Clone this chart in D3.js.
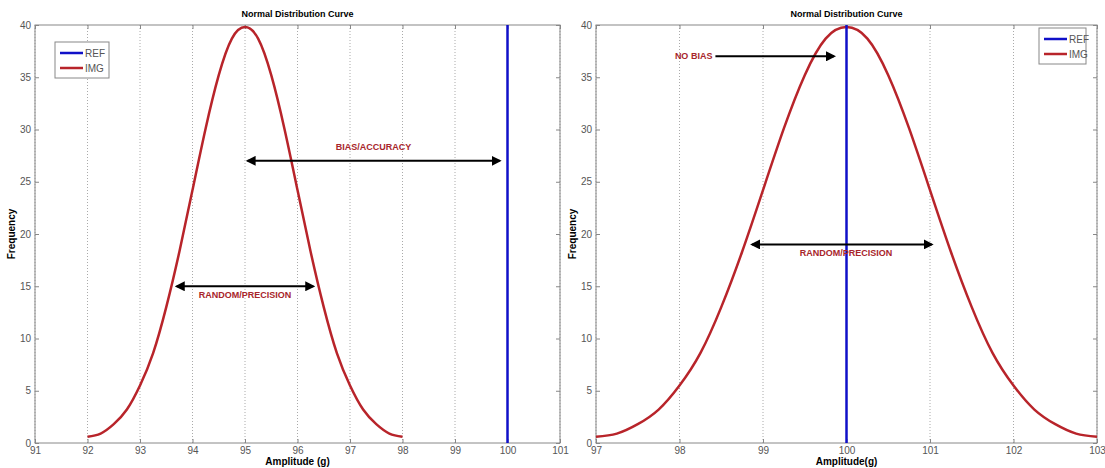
<!DOCTYPE html>
<html>
<head>
<meta charset="utf-8">
<script src="https://cdn.jsdelivr.net/npm/d3@7"></script>
<style>
  body { margin: 0; background: #fff; }
  svg { font-family: "Liberation Sans", Arial, sans-serif; }
  .tick text { fill: #555; font-size: 10px; }
  .axis path, .axis line { stroke: #888; }
  .grid line { stroke: #aaa; stroke-dasharray: 1,2; }
  .note { fill: #a8262b; font-size: 9px; font-weight: bold; }
</style>
</head>
<body>
<div id="chart"></div>
<script>
// values
var leftX   = [92, 92.25, 92.5, 92.75, 93, 93.25, 93.5, 93.75, 94, 94.25, 94.5, 94.75, 95,
               95.25, 95.5, 95.75, 96, 96.25, 96.5, 96.75, 97, 97.25, 97.5, 97.75, 98];
var leftY   = [0.6, 0.9, 1.8, 3.2, 5.5, 8.6, 13, 18.3, 24.2, 30.1, 35.2, 38.7, 39.8,
               38.7, 35.2, 30.1, 24.2, 18.3, 13, 8.6, 5.5, 3.2, 1.8, 0.9, 0.6];
var rightX  = [97, 97.25, 97.5, 97.75, 98, 98.25, 98.5, 98.75, 99, 99.25, 99.5, 99.75, 100,
               100.25, 100.5, 100.75, 101, 101.25, 101.5, 101.75, 102, 102.25, 102.5, 102.75, 103];
var rightY  = [0.6, 0.9, 1.8, 3.2, 5.5, 8.6, 13, 18.3, 24.2, 30.1, 35.2, 38.7, 39.8,
               38.7, 35.2, 30.1, 24.2, 18.3, 13, 8.6, 5.5, 3.2, 1.8, 0.9, 0.6];
var refValue = 100;
var leftTicks  = [91, 92, 93, 94, 95, 96, 97, 98, 99, 100, 101];
var rightTicks = [97, 98, 99, 100, 101, 102, 103];
var yTicks = [0, 5, 10, 15, 20, 25, 30, 35, 40];
var legendLabels = ["REF", "IMG"];

// annotations: [x1, x2, y, label]
var leftArrows  = [[95.05, 99.85, 27, "BIAS/ACCURACY"], [93.7, 96.3, 15, "RANDOM/PRECISION"]];
var rightArrows = [[98.87, 101.02, 19, "RANDOM/PRECISION"]];
var rightOneWay = [[98.43, 99.85, 37, "NO BIAS"]];

var colors = { ref: "#1010c8", img: "#b8242a" };

var svg = d3.select("#chart").append("svg")
    .attr("width", 1105).attr("height", 468);

var defs = svg.append("defs");
defs.append("marker").attr("id", "ah")
    .attr("viewBox", "0 0 10 10").attr("refX", 8).attr("refY", 5)
    .attr("markerWidth", 5).attr("markerHeight", 5).attr("orient", "auto-start-reverse")
    .append("path").attr("d", "M0,0 L10,5 L0,10 Z").attr("fill", "#000");

function drawPanel(p) {
    var x = d3.scaleLinear().domain(p.xDomain).range([p.left, p.right]);
    var y = d3.scaleLinear().domain([0, 40]).range([443, 25]);
    var g = svg.append("g");

    // dotted grid on x ticks
    g.append("g").attr("class", "grid").selectAll("line")
        .data(p.ticks).enter().append("line")
        .attr("x1", d => x(d)).attr("x2", d => x(d))
        .attr("y1", y(0)).attr("y2", y(40));

    // box
    g.append("rect").attr("x", p.left).attr("y", y(40))
        .attr("width", p.right - p.left).attr("height", y(0) - y(40))
        .attr("fill", "none").attr("stroke", "#888");

    var xAxis = g.append("g").attr("class", "axis").attr("transform", "translate(0," + y(0) + ")")
        .call(d3.axisBottom(x).tickValues(p.ticks).tickSize(-4).tickPadding(4).tickFormat(d3.format("d")));
    xAxis.select(".domain").remove();
    g.append("g").attr("class", "axis").attr("transform", "translate(0," + y(40) + ")")
        .call(d3.axisTop(x).tickValues(p.ticks).tickSize(-4).tickFormat(""))
        .select(".domain").remove();

    var yAxis = g.append("g").attr("class", "axis").attr("transform", "translate(" + p.left + ",0)")
        .call(d3.axisLeft(y).tickValues(yTicks).tickSize(-4).tickPadding(4));
    yAxis.select(".domain").remove();
    g.append("g").attr("class", "axis").attr("transform", "translate(" + p.right + ",0)")
        .call(d3.axisRight(y).tickValues(yTicks).tickSize(-4).tickFormat(""))
        .select(".domain").remove();

    // curve
    var pts = p.xs.map((v, i) => [v, p.ys[i]]);
    g.append("path").datum(pts)
        .attr("fill", "none").attr("stroke", colors.img).attr("stroke-width", 2.5)
        .attr("d", d3.line().x(d => x(d[0])).y(d => y(d[1])).curve(d3.curveNatural));

    // reference line
    g.append("line").attr("x1", x(refValue)).attr("x2", x(refValue))
        .attr("y1", y(0)).attr("y2", y(40))
        .attr("stroke", colors.ref).attr("stroke-width", 2.5);

    // arrows
    p.arrows.forEach(function(a) {
        g.append("line").attr("x1", x(a[0])).attr("x2", x(a[1])).attr("y1", y(a[2])).attr("y2", y(a[2]))
            .attr("stroke", "#000").attr("stroke-width", 2)
            .attr("marker-start", "url(#ah)").attr("marker-end", "url(#ah)");
        g.append("text").attr("class", "note").attr("text-anchor", "middle")
            .attr("x", (x(a[0]) + x(a[1])) / 2 + p.labelShift)
            .attr("y", a[3] === "BIAS/ACCURACY" ? y(a[2]) - 11 : y(a[2]) + 12)
            .text(a[3]);
    });
    (p.oneWay || []).forEach(function(a) {
        g.append("line").attr("x1", x(a[0])).attr("x2", x(a[1])).attr("y1", y(a[2])).attr("y2", y(a[2]))
            .attr("stroke", "#000").attr("stroke-width", 2)
            .attr("marker-end", "url(#ah)");
        g.append("text").attr("class", "note").attr("text-anchor", "end")
            .attr("x", x(a[0]) - 3).attr("y", y(a[2]) + 3).text(a[3]);
    });

    // title and labels
    g.append("text").attr("x", (p.left + p.right) / 2).attr("y", 17)
        .attr("text-anchor", "middle").attr("font-size", 9).attr("font-weight", "bold")
        .text("Normal Distribution Curve");
    g.append("text").attr("x", (p.left + p.right) / 2).attr("y", 465)
        .attr("text-anchor", "middle").attr("font-size", 10).attr("font-weight", "bold")
        .text(p.xLabel);
    g.append("text").attr("transform", "translate(" + (p.left - 20) + "," + y(20) + ") rotate(-90)")
        .attr("text-anchor", "middle").attr("font-size", 10).attr("font-weight", "bold")
        .text("Frequency");

    // legend
    var lg = g.append("g").attr("transform", "translate(" + p.legend[0] + "," + p.legend[1] + ")");
    lg.append("rect").attr("width", p.legend[2]).attr("height", 36)
        .attr("fill", "#fff").attr("stroke", "#888");
    legendLabels.forEach(function(lbl, i) {
        var ly = 11 + i * 15;
        lg.append("line").attr("x1", 5).attr("x2", 28).attr("y1", ly).attr("y2", ly)
            .attr("stroke", i === 0 ? colors.ref : colors.img).attr("stroke-width", 2.5);
        lg.append("text").attr("x", 30).attr("y", ly + 3.5).attr("font-size", 10)
            .attr("fill", "#555").text(lbl);
    });
}

drawPanel({ left: 35, right: 560, xDomain: [91, 101], ticks: leftTicks,
    xs: leftX, ys: leftY, arrows: leftArrows, labelShift: 0,
    xLabel: "Amplitude (g)", legend: [55, 42, 54] });
drawPanel({ left: 596, right: 1097, xDomain: [97, 103], ticks: rightTicks,
    xs: rightX, ys: rightY, arrows: rightArrows, oneWay: rightOneWay, labelShift: 4,
    xLabel: "Amplitude(g)", legend: [1039, 28, 47] });
</script>
</body>
</html>
